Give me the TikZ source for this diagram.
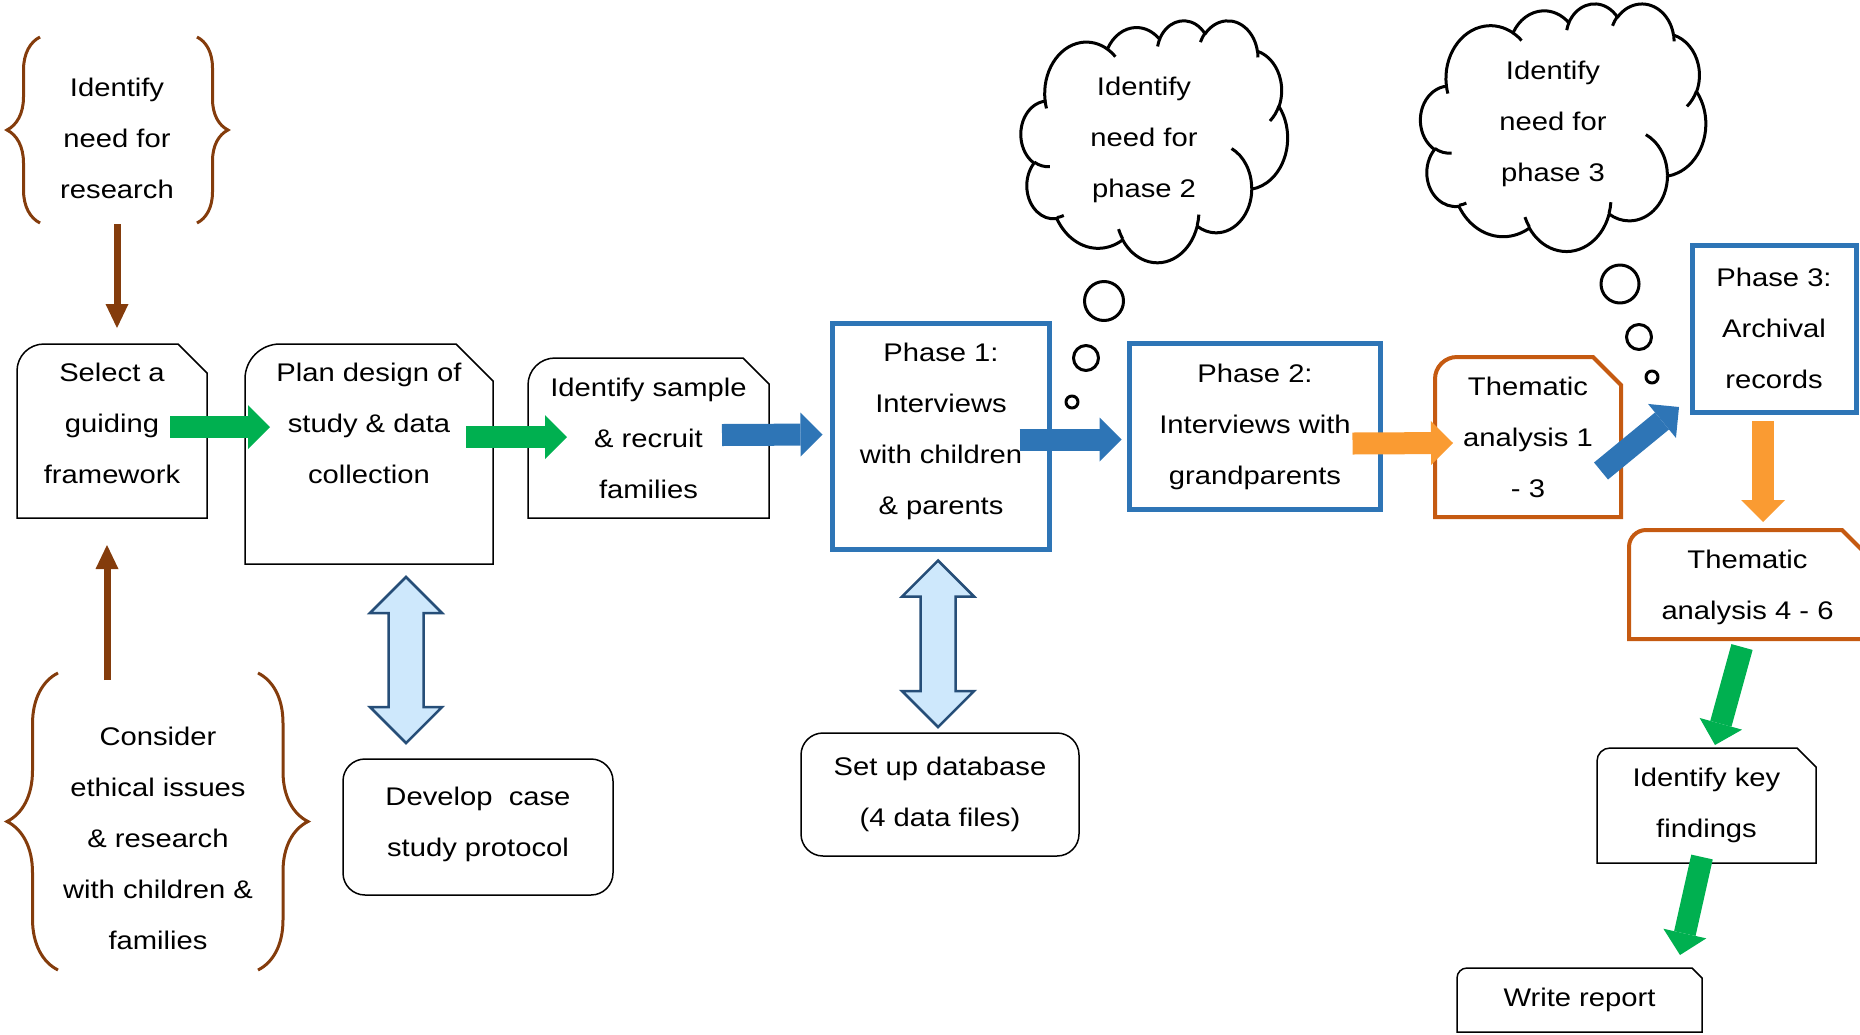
\documentclass[tikz,border=0pt]{standalone}
\usepackage{fontspec}
\setmainfont{Liberation Sans}[FakeStretch=1.145]
\usetikzlibrary{arrows.meta,calc,decorations.pathreplacing}

\definecolor{ppbrown}{RGB}{132,60,12}
\definecolor{ppgreen}{RGB}{0,176,80}
\definecolor{ppblue}{RGB}{46,117,182}
\definecolor{pporange}{RGB}{250,155,50}
\definecolor{ppamber}{RGB}{197,90,17}
\definecolor{ppsky}{RGB}{206,232,252}
\definecolor{ppnavy}{RGB}{38,78,120}

\newcommand{\snipframe}[4][]{%
  \draw[line width=1.5pt,#1] (#2.south west) -- ($(#2.north west)+(0,#3)$)
    arc[start angle=180, end angle=270, radius=#3]
    -- ($(#2.north east)+(-#4,0)$) -- ($(#2.north east)+(0,#4)$)
    -- (#2.south east) -- cycle;}

\newcommand{\bothways}[2]{%
  \draw[both ways] (#1) -- ++(36,36) -- ++(-18.5,0) -- ($(#2)+(17.5,-36)$)
    -- ++(18.5,0) -- (#2) -- ++(-36,-36) -- ++(18.5,0)
    -- ($(#1)+(-17.5,36)$) -- ++(-18.5,0) -- cycle;}

\newcommand{\thought}[4]{%
  \begin{scope}[shift={(#1,#2)}, xscale=#3, yscale=#4]
    \draw[puff line] (39,143.7) \foreach \rx/\ry/\st/\sw in {
        67.53/91.90/-190.4875/123.7805, 53.33/72.67/-144.1024/89.9452,
        43.65/59.45/-145.8079/99.7230, 48.57/65.95/-130.9861/117.2417,
        53.33/72.73/-78.7089/109.0269, 67.75/92.20/-46.2673/130.2690,
        57.85/78.67/0.6250/114.0333, 67.52/92.15/22.4516/115.1726,
        77.20/105.43/66.2426/75.7110, 43.60/59.18/-274.9421/146.7356,
        43.45/59.45/-246.8285/152.5189}
      {arc[puff={\rx}{\ry}{\st}{\sw}]} -- cycle;
    \draw[puff line] \foreach \x/\y/\rx/\ry/\st/\sw in {
        46.93/261.77/43.45/59.45/86.7420/26.4295,
        69.28/348.99/43.60/59.18/73.6105/11.4475,
        164.78/390.90/67.52/92.15/137.6242/14.0811,
        288.27/347.51/67.52/92.15/6.4533/15.9984,
        341.29/229.54/57.85/78.67/-70.2924/70.9174,
        417.98/153.54/53.33/72.73/30.3180/27.7515,
        383.24/54.26/48.57/65.95/-13.7443/14.8589,
        290.78/39.52/48.57/65.95/-149.1815/18.1954,
        221.41/47.20/43.65/59.45/-163.4943/17.6864,
        140.00/51.92/67.53/91.90/-66.7070/12.3194,
        41.27/157.89/67.53/91.90/157.6544/11.8582}
      {(\x,\y) arc[puff={\rx}{\ry}{\st}{\sw}]};
  \end{scope}}

\begin{document}
\begin{tikzpicture}[x=1pt, y=-1pt,
    every node/.style={font=\fontsize{25.5}{51}\selectfont, align=center,
      inner sep=0pt, outer sep=0pt},
    phase/.style={draw=ppblue, line width=5pt},
    soft/.style={draw, line width=1.5pt, rounded corners=22pt},
    fat/.style={line width=22pt, -{Triangle[width=44pt,length=22pt,line width=0pt]}},
    slim/.style={ppbrown, line width=7pt, -{Triangle[width=23pt,length=24pt,line width=0pt]}},
    curly/.style={ppbrown, line width=3pt, decorate, decoration={brace, amplitude=#1}},
    both ways/.style={draw=ppnavy, fill=ppsky, line width=2.5pt},
    puff line/.style={line width=3pt, line join=round},
    puff/.style n args={4}{x radius=#1, y radius=#2,
      start angle={atan2(#1*sin(#3),#2*cos(#3))},
      delta angle={mod(atan2(#1*sin(#3+#4),#2*cos(#3+#4))-atan2(#1*sin(#3),#2*cos(#3))+720,360)}}]

  \path[use as bounding box] (0,0) rectangle (1860,1034);
  \clip (0,0) rectangle (1860,1034);

  \node (0) at (117,138) {Identify\\need for\\research};
  \node (1) [minimum width=190, minimum height=174, text depth=16pt] at (112,431) {Select a\\guiding\\framework};
  \node (2) [minimum width=248, minimum height=220, text depth=62pt] at (369,454) {Plan design of\\study \& data\\collection};
  \node (3) [minimum width=241, minimum height=160] at (648.5,438) {Identify sample\\\& recruit\\families};
  \node (4) [phase, minimum width=217, minimum height=226, text depth=15pt] at (941,436.5) {Phase 1:\\Interviews\\with children\\\& parents};
  \node (5) [phase, minimum width=251, minimum height=166] at (1255,426.5) {Phase 2:\\Interviews with\\grandparents};
  \node (6) [minimum width=186, minimum height=160] at (1528,437) {Thematic\\analysis 1\\- 3};
  \node (7) [phase, minimum width=164, minimum height=167] at (1774,328.5) {Phase 3:\\Archival\\records};
  \node (8) [minimum width=237, minimum height=109, text depth=0pt] at (1747.5,584.5) {Thematic\\analysis 4 - 6};
  \node (9) [minimum width=219, minimum height=115] at (1706.5,805.5) {Identify key\\findings};
  \node (10) [minimum width=245, minimum height=64] at (1579.5,1000) {Write report};
  \node (11) [soft, minimum width=270, minimum height=136, text depth=11pt] at (478,827) {Develop\ \ case\\study protocol};
  \node (12) [soft, minimum width=278, minimum height=123] at (940,794.5) {Set up database\\(4 data files)};
  \node (13) at (158,838) {Consider\\ethical issues\\\& research\\with children \&\\families};
  \node (14) at (1144,140) {Identify\\need for\\phase 2};
  \node (15) at (1553,124) {Identify\\need for\\phase 3};

  \snipframe{1}{27}{29}
  \snipframe{2}{35}{37}
  \snipframe{3}{27}{26}
  \snipframe[ppamber, line width=4pt]{6}{22}{28}
  \snipframe[ppamber, line width=4pt]{8}{17}{24}
  \snipframe{9}{13}{19}
  \snipframe{10}{10}{10}

  \coordinate (a) at ($(2.south)+(37,13)$);
  \coordinate (b) at ($(11.north)+(-72,-16)$);
  \coordinate (c) at ($(4.south)+(-3,11)$);
  \coordinate (d) at ($(12.north)+(-2,-6)$);
  \bothways{a}{b}
  \bothways{c}{d}

  \draw[slim] ($(0)+(0,86)$) -- ($(1.north)+(5,-16)$);
  \draw[slim] ($(13)+(-51,-158)$) -- ($(1.south)+(-5,27)$);
  \draw[fat, ppgreen] ($(1.east)+(-37,-4)$) -- ($(2.west)+(25,-27)$);
  \draw[fat, ppgreen] ($(2.east)+(-27,-17)$) -- ($(3.west)+(39,-1)$);
  \draw[fat, ppblue] ($(3.east)+(-47,-3)$) -- ($(4.west)+(-10,-2)$);
  \draw[fat, ppblue] ($(4.east)+(-30,3)$) -- ($(5.west)+(-8,13)$);
  \draw[fat, pporange] ($(5.east)+(-28,17)$) -- ($(6.west)+(18,6)$);
  \draw[fat, ppblue] ($(6.east)+(-20,34)$) -- ($(7.south west)+(-13,-5)$);
  \draw[fat, pporange] ($(7.south)+(-11,9)$) -- ($(8.north)+(15.5,-8)$);
  \draw[fat, ppgreen] ($(8.south)+(-5.5,8)$) -- ($(9.north)+(8.5,-3)$);
  \draw[fat, ppgreen] ($(9.south)+(-4.5,-6)$) -- ($(10.north)+(100.5,-13)$);

  \draw[curly=33] (40,223) -- (40,37);
  \draw[curly=31] (197,37) -- (197,223);
  \draw[curly=51] (58,970) -- (58,673);
  \draw[curly=50] (258,673) -- (258,970);

  \thought{1021}{20}{0.617}{0.560}
  \thought{1420.6}{3.1}{0.660}{0.573}
  \foreach \x/\y/\rad in {1104/301/19.5, 1086/358/12.5, 1072/402/6,
                          1620/284/19, 1639/337/12.5, 1652/377/6}
    \draw[puff line] (\x,\y) circle[radius=\rad];
\end{tikzpicture}
\end{document}
